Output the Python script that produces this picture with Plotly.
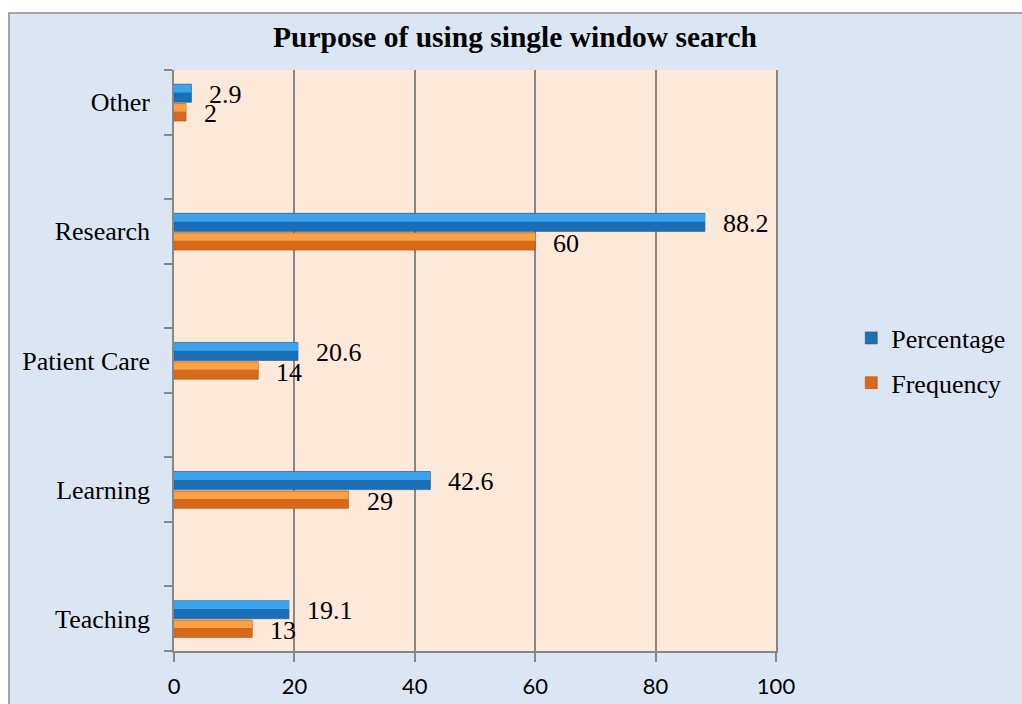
import numpy as np
import plotly.graph_objects as go

# Survey results: purpose of using single window search
categories = ["Teaching", "Learning", "Patient Care", "Research", "Other"]
percentage = [19.1, 42.6, 20.6, 88.2, 2.9]
frequency = [13, 29, 14, 60, 2]
x_ticks = [0, 20, 40, 60, 80, 100]

pos = list(range(len(categories)))

SERIF = "Liberation Serif, Times New Roman, serif"
SANS = "Lato, Calibri, sans-serif"
GRID = "#878787"

BLUE_DARK, BLUE_LIGHT = "#1B6FB7", "#3CA2EE"
ORANGE_DARK, ORANGE_LIGHT = "#D8681A", "#F9A146"

fig = go.Figure()

# base (shaded) bars, shown in the legend
fig.add_trace(go.Bar(
    y=pos, x=percentage, orientation="h", name="Percentage",
    offset=0.0, width=0.14, marker=dict(color=BLUE_DARK, line=dict(width=0.6, color="#155a95")),
    legendgroup="pct", hoverinfo="skip",
))
fig.add_trace(go.Bar(
    y=pos, x=frequency, orientation="h", name="Frequency",
    offset=-0.145, width=0.135, marker=dict(color=ORANGE_DARK, line=dict(width=0.6, color="#b25412")),
    legendgroup="frq", hoverinfo="skip",
))
# highlighted upper face of each bar
fig.add_trace(go.Bar(
    y=pos, x=percentage, orientation="h", showlegend=False,
    offset=0.075, width=0.062, marker=dict(color=BLUE_LIGHT, line=dict(width=0)),
    legendgroup="pct", hoverinfo="skip",
))
fig.add_trace(go.Bar(
    y=pos, x=frequency, orientation="h", showlegend=False,
    offset=-0.072, width=0.058, marker=dict(color=ORANGE_LIGHT, line=dict(width=0)),
    legendgroup="frq", hoverinfo="skip",
))

# value labels
annotations = []
for p, v in zip(pos, percentage):
    annotations.append(dict(x=v, y=p + 0.06, text=f"{v:g}", showarrow=False,
                            xanchor="left", yanchor="middle", xshift=16,
                            font=dict(family=SERIF, size=26, color="black")))
for p, v in zip(pos, frequency):
    annotations.append(dict(x=v, y=p - 0.09, text=f"{v:g}", showarrow=False,
                            xanchor="left", yanchor="middle", xshift=16,
                            font=dict(family=SERIF, size=26, color="black")))

# chart frame and plot-area fill behind everything
L, R, T, B = 174, 246, 70, 53
W, H = 1022, 704
pw, ph = W - L - R, H - T - B
shapes = [
    dict(type="rect", xref="paper", yref="paper", layer="below",
         x0=(9 - L) / pw, x1=(W + 20 - L) / pw,
         y0=(H - B - (H + 20)) / ph, y1=(H - B - 13) / ph,
         fillcolor="#DCE6F2", line=dict(color="#8C8C8C", width=1.5)),
    dict(type="rect", xref="paper", yref="paper", layer="below",
         x0=0, x1=1, y0=0, y1=1,
         fillcolor="#FDE9D9", line=dict(width=0)),
]

fig.update_layout(
    width=W, height=H,
    margin=dict(l=L, r=R, t=T, b=B, pad=0, autoexpand=False),
    paper_bgcolor="white",
    plot_bgcolor="#FDE9D9",
    barmode="overlay",
    title=dict(text="<b>Purpose of using single window search</b>",
               x=(273 + 757) / 2 / W, xref="container", y=1 - 37 / H, yref="container",
               xanchor="center", yanchor="middle",
               font=dict(family=SERIF, size=29.5, color="black")),
    xaxis=dict(
        range=[0, 100], tickvals=x_ticks, showgrid=True, gridcolor=GRID, gridwidth=1.6,
        showline=True, linecolor=GRID, linewidth=1.6, zeroline=False,
        ticks="outside", ticklen=9, tickcolor=GRID, tickwidth=1.6,
        ticklabelstandoff=6, automargin=False,
        tickfont=dict(family=SANS, size=22, color="black"),
    ),
    yaxis=dict(
        range=[-0.25, 4.25], tickmode="array", tickvals=pos, ticktext=categories,
        showgrid=False, zeroline=False, showline=True, linecolor=GRID, linewidth=1.6,
        mirror=True, ticks="", ticklabelstandoff=17, automargin=False,
        tickfont=dict(family=SERIF, size=26, color="black"),
        minor=dict(tickmode="array", tickvals=list(np.arange(-0.25, 4.3, 0.5)),
                   ticks="outside", ticklen=8, tickcolor=GRID, tickwidth=1.6, showgrid=False),
    ),
    legend=dict(
        x=1.125, xanchor="left", y=0.5, yanchor="middle",
        bgcolor="rgba(0,0,0,0)", tracegroupgap=8,
        font=dict(family=SERIF, size=26, color="black"),
    ),
    annotations=annotations,
    shapes=shapes,
    showlegend=True,
)

fig.write_html("out.html")
